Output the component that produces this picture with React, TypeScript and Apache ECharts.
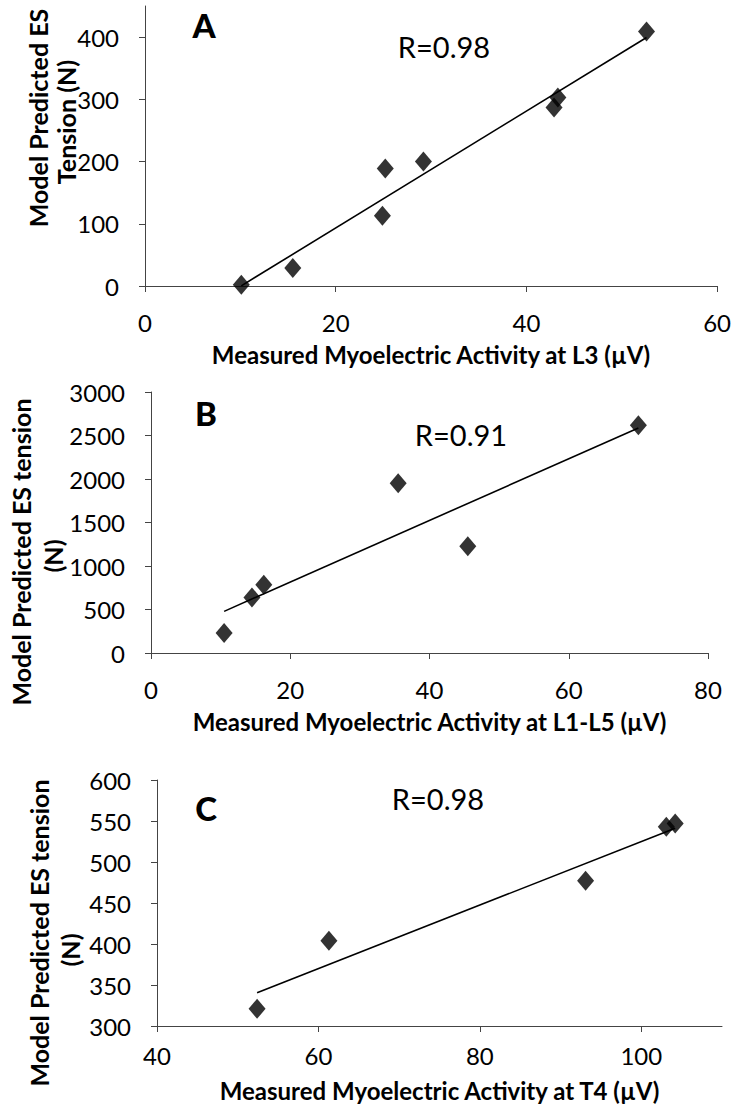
import React, { useEffect, useRef } from "react";
import * as echarts from "echarts";

// Panel A: L3
const aX = [10.1, 15.5, 24.9, 25.2, 29.2, 42.9, 43.3, 52.6];
const aY = [2, 29, 113, 189, 200, 287, 303, 409];
// Panel B: L1-L5
const bX = [10.5, 14.5, 16.2, 35.5, 45.5, 70];
const bY = [230, 639, 785, 1950, 1226, 2619];
// Panel C: T4
const cX = [52.4, 61.3, 93.1, 103.1, 104.2];
const cY = [321, 404, 477, 543, 547];

const aYTicks = [0, 100, 200, 300, 400];
const cXTicks = [40, 60, 80, 100];

const panelLetters = ["A", "B", "C"];
const rLabels = ["R=0.98", "R=0.91", "R=0.98"];
const xTitles = [
  "Measured Myoelectric Activity at L3 (\u00b5V)",
  "Measured Myoelectric Activity at L1-L5 (\u00b5V)",
  "Measured Myoelectric Activity at T4 (\u00b5V)",
];
const yTitles = [
  ["Model Predicted ES", "Tension (N)"],
  ["Model Predicted ES tension", "(N)"],
  ["Model Predicted ES tension", "(N)"],
];

function fit(xs: number[], ys: number[]): number[][] {
  const n = xs.length;
  const mx = xs.reduce((s, v) => s + v, 0) / n;
  const my = ys.reduce((s, v) => s + v, 0) / n;
  let sxy = 0;
  let sxx = 0;
  for (let i = 0; i < n; i++) {
    sxy += (xs[i] - mx) * (ys[i] - my);
    sxx += (xs[i] - mx) * (xs[i] - mx);
  }
  const k = sxy / sxx;
  const b = my - k * mx;
  const x0 = Math.min(...xs);
  const x1 = Math.max(...xs);
  return [
    [x0, k * x0 + b],
    [x1, k * x1 + b],
  ];
}

const FONT = "Lato, 'Liberation Sans', sans-serif";

export default function App() {
  const ref = useRef<HTMLDivElement>(null);

  useEffect(() => {
    if (!ref.current) return;
    const chart = echarts.init(ref.current, undefined, { renderer: "svg" });

    const grids = [
      { left: 145, top: 6, width: 575, height: 280 },
      { left: 151, top: 392, width: 557, height: 261 },
      { left: 157, top: 780, width: 565, height: 246 },
    ];

    const axisLine = { show: true, lineStyle: { color: "#444", width: 1 } };
    const tickStyle = { show: true, inside: false, length: 6, lineStyle: { color: "#444", width: 1 } };
    const fmt = (v: number) => String(v);
    const labelStyle = { color: "#000", fontFamily: FONT, fontSize: 24, formatter: fmt };
    const nameStyle = { color: "#000", fontFamily: FONT, fontSize: 24, fontWeight: "bold" as const };

    const xAxes = [
      { min: 0, max: 60, interval: 20, gap: 56, margin: 24 },
      { min: 0, max: 80, interval: 20, gap: 56, margin: 24 },
      { min: 40, max: 110, interval: 20, gap: 52, margin: 17, custom: cXTicks },
    ].map((a, i) => ({
      type: "value",
      gridIndex: i,
      min: a.min,
      max: a.max,
      interval: a.interval,
      splitLine: { show: false },
      axisLine,
      axisTick: a.custom ? { ...tickStyle, customValues: a.custom } : tickStyle,
      axisLabel: a.custom
        ? { ...labelStyle, margin: a.margin, customValues: a.custom }
        : { ...labelStyle, margin: a.margin },
      name: xTitles[i],
      nameLocation: "middle",
      nameGap: a.gap,
      nameTextStyle: nameStyle,
    }));

    const yAxes = [
      { min: 0, max: 450, interval: 50, custom: aYTicks },
      { min: 0, max: 3000, interval: 500 },
      { min: 300, max: 600, interval: 50 },
    ].map((a, i) => ({
      type: "value",
      gridIndex: i,
      min: a.min,
      max: a.max,
      interval: a.interval,
      splitLine: { show: false },
      axisLine,
      axisTick: a.custom ? { ...tickStyle, customValues: a.custom } : tickStyle,
      axisLabel: a.custom
        ? { ...labelStyle, margin: 26, customValues: a.custom }
        : { ...labelStyle, margin: 26 },
    }));

    const datasets = [
      [aX, aY],
      [bX, bY],
      [cX, cY],
    ];

    const series: any[] = [];
    datasets.forEach(([xs, ys], i) => {
      series.push({
        type: "line",
        xAxisIndex: i,
        yAxisIndex: i,
        data: fit(xs, ys),
        showSymbol: false,
        symbol: "none",
        lineStyle: { color: "#000", width: 1.6 },
        z: 2,
      });
      series.push({
        type: "scatter",
        xAxisIndex: i,
        yAxisIndex: i,
        data: xs.map((x, j) => [x, ys[j]]),
        symbol: "diamond",
        symbolSize: [17, 20],
        itemStyle: { color: "#000" },
        z: 3,
      });
    });

    const letterPos = [
      [204, 25],
      [206, 413],
      [206, 808],
    ];
    const rPos = [
      [444, 46],
      [461, 434],
      [438, 798],
    ];
    const yTitlePos = [
      [
        [38, 118],
        [66, 122],
      ],
      [
        [21, 552],
        [53, 556],
      ],
      [
        [39, 933],
        [70, 950],
      ],
    ];

    const graphic: any[] = [];
    for (let i = 0; i < 3; i++) {
      graphic.push({
        type: "text",
        x: letterPos[i][0],
        y: letterPos[i][1],
        style: {
          text: panelLetters[i],
          fill: "#000",
          font: `900 33px ${FONT}`,
          align: "center",
          verticalAlign: "middle",
        },
      });
      graphic.push({
        type: "text",
        x: rPos[i][0],
        y: rPos[i][1],
        style: {
          text: rLabels[i],
          fill: "#000",
          font: `29px ${FONT}`,
          align: "center",
          verticalAlign: "middle",
        },
      });
      yTitles[i].forEach((t, j) => {
        graphic.push({
          type: "text",
          x: yTitlePos[i][j][0],
          y: yTitlePos[i][j][1],
          rotation: Math.PI / 2,
          style: {
            text: t,
            fill: "#000",
            font: `bold 25px ${FONT}`,
            align: "center",
            verticalAlign: "middle",
          },
        });
      });
    }

    chart.setOption({
      animation: false,
      backgroundColor: "#fff",
      grid: grids,
      xAxis: xAxes,
      yAxis: yAxes,
      series,
      graphic,
    });

    return () => chart.dispose();
  }, []);

  return (
    <div
      ref={ref}
      style={{ position: "absolute", left: 0, top: 0, width: 734, height: 1104, background: "#fff" }}
    />
  );
}
